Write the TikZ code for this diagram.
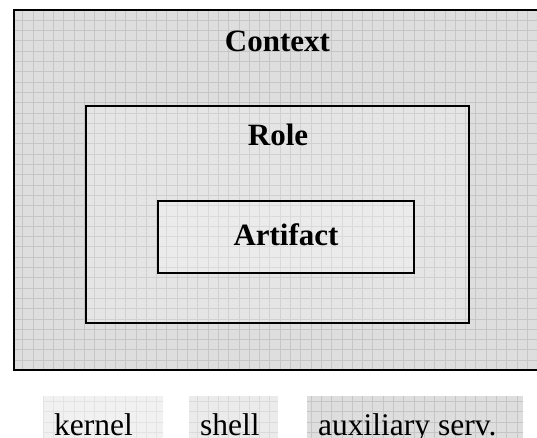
\documentclass[tikz,border=0pt]{standalone}
\usepackage{fontspec}
\setmainfont{Liberation Serif}
\definecolor{ctxbg}{HTML}{DEDEDE}
\definecolor{ctxgrid}{HTML}{C6C6C6}
\definecolor{rolebg}{HTML}{E5E5E5}
\definecolor{rolegrid}{HTML}{D0D0D0}
\definecolor{artbg}{HTML}{EBEBEB}
\definecolor{artgrid}{HTML}{DADADA}
\definecolor{kerbg}{HTML}{F1F1F1}
\definecolor{kergrid}{HTML}{E3E3E3}
\newcommand{\gridarea}[6]{%
  \begin{scope}
    \clip (#1,#2) rectangle (#3,#4);
    \fill[#5] (#1,#2) rectangle (#3,#4);
    \foreach \i in {0,...,53}{
      \draw[#6,line width=0.9pt] (2.1+10.3*\i,0) -- (2.1+10.3*\i,450);
      \draw[#6,line width=0.9pt] (0,-0.3+10.3*\i) -- (560,-0.3+10.3*\i);}
  \end{scope}}
\begin{document}
\begin{tikzpicture}[x=1pt,y=-1pt,
  framebox/.style={draw=black,line width=2pt,inner sep=0pt},
  bigtitle/.style={font=\fontsize{31}{31}\selectfont\bfseries,anchor=base,inner sep=0pt},
  legendbox/.style={inner sep=0pt,anchor=north west},
  legendtext/.style={font=\fontsize{31.5}{31.5}\selectfont,anchor=base west,inner sep=0pt}
]
\useasboundingbox (0,0) rectangle (537,438);
\clip (0,0) rectangle (537,438);
% context
\gridarea{14}{10.2}{546}{370.2}{ctxbg}{ctxgrid}
\node[framebox,minimum width=532pt,minimum height=360pt] (context) at (280,190.2) {};
% role
\gridarea{85.8}{106}{469}{322.5}{rolebg}{rolegrid}
\node[framebox,minimum width=383.2pt,minimum height=216.5pt] (role) at (277.4,214.25) {};
% artifact
\gridarea{157.5}{201}{414}{272.5}{artbg}{artgrid}
\node[framebox,minimum width=256.5pt,minimum height=71.5pt] (artifact) at (285.75,236.75) {};
% titles
\node[bigtitle] (contexttitle) at (277.5,52) {Context};
\node[bigtitle] (roletitle) at (278,146) {Role};
\node[bigtitle] (artifacttitle) at (286,245) {Artifact};
% legend
\gridarea{43}{396}{163}{446}{kerbg}{kergrid}
\node[legendbox,minimum width=120pt,minimum height=50pt] (kernelbox) at (43,396) {};
\gridarea{189}{396}{278}{446}{artbg}{artgrid}
\node[legendbox,minimum width=89pt,minimum height=50pt] (shellbox) at (189,396) {};
\gridarea{307}{396}{523}{446}{ctxbg}{ctxgrid}
\node[legendbox,minimum width=216pt,minimum height=50pt] (auxbox) at (307,396) {};
\node[legendtext] (kerneltext) at (54,435) {kernel};
\node[legendtext] (shelltext) at (200,435) {shell};
\node[legendtext] (auxtext) at (318,435) {auxiliary serv.};
\end{tikzpicture}
\end{document}
